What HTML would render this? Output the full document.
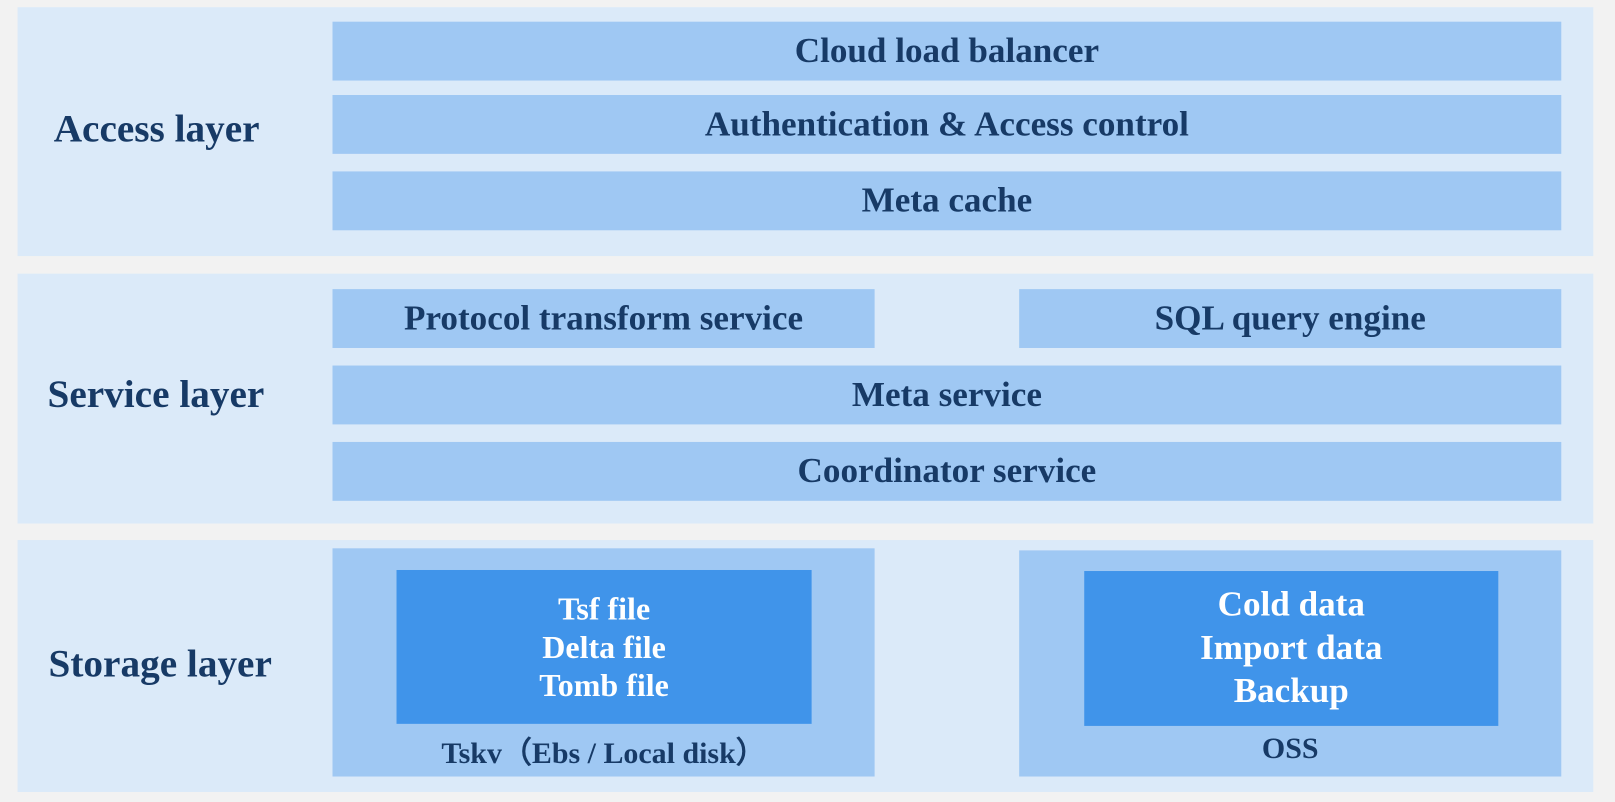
<!DOCTYPE html>
<html><head><style>
html,body{margin:0;padding:0;width:1615px;height:802px;overflow:hidden;background:#f2f2f2;}
#w{position:absolute;left:0;top:0;width:1564px;height:777px;transform:scale(1.0326);transform-origin:0 0;font-family:"Liberation Serif",serif;font-weight:bold;color:#173a66;}
.p{position:absolute;background:#dbeaf9;left:17px;width:1526px;}
.b{position:absolute;background:#9fc8f3;display:flex;align-items:center;justify-content:center;font-size:34px;}
.i{position:absolute;background:#4094ea;color:#fff;display:flex;flex-direction:column;align-items:center;justify-content:center;font-size:31px;line-height:37px;}
.l{position:absolute;font-size:38px;white-space:nowrap;}
.c{position:absolute;font-size:29px;width:525px;text-align:center;white-space:nowrap;}
</style></head><body><div id="w">
<div class="p" style="top:7px;height:241px"></div>
<div class="p" style="top:265px;height:242px"></div>
<div class="p" style="top:523px;height:244px"></div>
<div class="l" style="left:52px;top:103px">Access layer</div>
<div class="l" style="left:46px;top:360px">Service layer</div>
<div class="l" style="left:47px;top:621px">Storage layer</div>
<div class="b" style="left:322px;width:1190px;top:21px;height:57px">Cloud load balancer</div>
<div class="b" style="left:322px;width:1190px;top:92px;height:57px">Authentication &amp; Access control</div>
<div class="b" style="left:322px;width:1190px;top:166px;height:57px">Meta cache</div>
<div class="b" style="left:322px;width:525px;top:280px;height:57px">Protocol transform service</div>
<div class="b" style="left:987px;width:525px;top:280px;height:57px">SQL query engine</div>
<div class="b" style="left:322px;width:1190px;top:354px;height:57px">Meta service</div>
<div class="b" style="left:322px;width:1190px;top:428px;height:57px">Coordinator service</div>
<div class="b" style="left:322px;width:525px;top:531px;height:221px"></div>
<div class="b" style="left:987px;width:525px;top:533px;height:219px"></div>
<div class="i" style="left:384px;width:402px;top:552px;height:149px"><div>Tsf file</div><div>Delta file</div><div>Tomb file</div></div>
<div class="i" style="left:1050px;width:401px;top:553px;height:150px;font-size:34px;line-height:42px"><div>Cold data</div><div>Import data</div><div>Backup</div></div>
<div class="c" style="left:322px;top:706px">Tskv（Ebs / Local disk）</div>
<div class="c" style="left:987px;top:709px">OSS</div>
</div></body></html>
